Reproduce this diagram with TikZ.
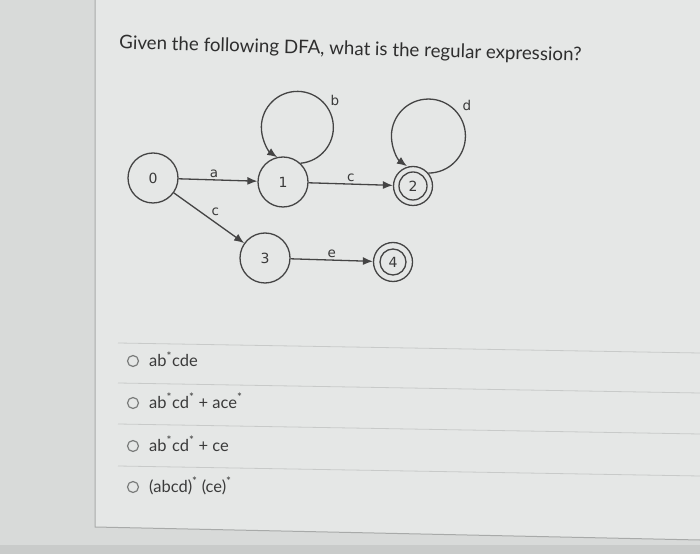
\documentclass[tikz,border=0pt]{standalone}
\usepackage{fontspec}
\setmainfont{Lato}
\newfontfamily\dfafont{DejaVu Sans}
\usetikzlibrary{arrows.meta}
\definecolor{outerc}{HTML}{D8DAD9}
\definecolor{panelc}{HTML}{E5E7E6}
\definecolor{borderc}{HTML}{A8AAA9}
\definecolor{sepc}{HTML}{C8CAC9}
\definecolor{bottomc}{HTML}{C9CBCA}
\definecolor{linec}{HTML}{444444}
\definecolor{txtc}{HTML}{3A3A3A}
\definecolor{titlec}{HTML}{2E2E2E}
\definecolor{radioc}{HTML}{7A7C7B}
\begin{document}
\begin{tikzpicture}[x=1pt,y=1pt,
  st/.style={circle, draw=linec, line width=1.3pt, minimum size=50pt, inner sep=0pt, font=\dfafont\fontsize{14}{16}\selectfont, text=txtc},
  acc/.style={st, minimum size=39pt},
  tr/.style={draw=linec, line width=1.3pt, -{Latex[length=10pt,width=8pt]}},
  lab/.style={font=\dfafont\fontsize{13.5}{15}\selectfont, text=txtc, inner sep=2pt},
  sepline/.style={draw=sepc, line width=0.8pt},
  radio/.style={circle, draw=radioc, line width=1.2pt, minimum size=11pt, inner sep=0pt},
  opt/.style={anchor=base west, font=\fontsize{16.5}{18}\selectfont, text=txtc, inner sep=0pt},
]
\useasboundingbox (0,0) rectangle (700,554);
\fill[outerc] (0,0) rectangle (700,554);
\fill[bottomc] (0,0) rectangle (700,9);
\fill[panelc] (95,554) -- (95,27) -- (700,14) -- (700,554) -- cycle;
\draw[borderc, line width=1pt] (95,554) -- (95,27) -- (700,14);

\node[anchor=base west, rotate=-1.5, font=\fontsize{18.7}{22}\selectfont, text=titlec, inner sep=0pt] (title) at (119,505) {Given the following DFA, what is the regular expression?};

\node[st] (n0) at (153,376) {0};
\node[st] (n1) at (283,372) {1};
\node[acc] (n2) at (413,368) {2};
\node[st] (n3) at (265,296) {3};
\node[acc] (n4) at (393,292) {4};
\draw[linec, line width=1.3pt] (n2.center) circle[radius=14];
\draw[linec, line width=1.3pt] (n4.center) circle[radius=13];

\draw[tr] (n0) -- node[lab, above, pos=0.45] (la) {a} (n1);
\draw[tr] (n1) -- node[lab, above] (lc1) {c} (n2);
\draw[tr] (n0) -- node[lab, above right, pos=0.5] (lc2) {c} (n3);
\draw[tr] (n3) -- node[lab, above] (le) {e} (n4);
\draw[tr] (n1.47) arc[start angle=-85, end angle=236, radius=36];
\node[lab] (lb) at (335,454) {b};
\draw[tr] (n2.40) arc[start angle=-90, end angle=234.5, radius=37];
\node[lab] (ld) at (467,449) {d};

\draw[sepline] (118,211) -- (700,201);
\draw[sepline] (118,171) -- (700,161);
\draw[sepline] (118,130) -- (700,120);
\draw[sepline] (118,88) -- (700,78);

\node[radio] (r1) at (133,193) {};
\node[opt] (o1) at (149,187) {ab\textsuperscript{*}cde};
\node[radio] (r2) at (133,151) {};
\node[opt] (o2) at (149,146) {ab\textsuperscript{*}cd\textsuperscript{*} + ace\textsuperscript{*}};
\node[radio] (r3) at (133,108) {};
\node[opt] (o3) at (149,103) {ab\textsuperscript{*}cd\textsuperscript{*} + ce};
\node[radio] (r4) at (133,67) {};
\node[opt] (o4) at (149,62) {(abcd)\textsuperscript{*} (ce)\textsuperscript{*}};
\end{tikzpicture}
\end{document}
